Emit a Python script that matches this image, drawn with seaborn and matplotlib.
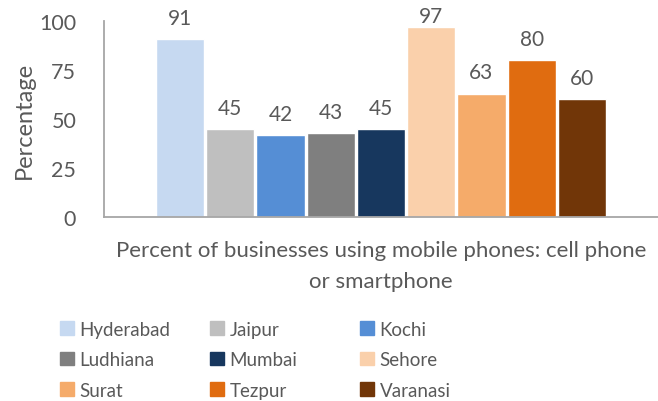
import pandas as pd
import matplotlib.pyplot as plt
import seaborn as sns

cities = ["Hyderabad", "Jaipur", "Kochi", "Ludhiana", "Mumbai",
          "Sehore", "Surat", "Tezpur", "Varanasi"]
values = [91, 45, 42, 43, 45, 97, 63, 80, 60]
colors = ["#C6D9F1", "#BFBFBF", "#558ED5", "#7F7F7F", "#17375E",
          "#FAD0AB", "#F5AB6A", "#E06C10", "#713608"]
category = "Percent of businesses using mobile phones: cell phone\nor smartphone"

df = pd.DataFrame({"Category": [category] * len(cities), "City": cities, "Percentage": values})

sns.set_style("white")
plt.rcParams['font.family'] = ['Lato', 'DejaVu Sans']
txt = "#595959"

fig = plt.figure(figsize=(6.58, 4.02), dpi=100)
ax = fig.add_axes([0.158, 0.458, 0.842, 0.487])

sns.barplot(ax=ax, data=df, x="Category", y="Percentage", hue="City",
            palette=colors, width=0.816, gap=0.04, saturation=1, legend=False)

for c, v in zip(ax.containers, values):
    ax.bar_label(c, padding=1 if v > 95 else 8, fontsize=15, color=txt)

ax.set_ylim(0, 100)
ax.set_xlim(-0.5, 0.5)
ax.set_yticks([0, 25, 50, 75, 100])
ax.tick_params(axis='y', labelsize=15.5, labelcolor=txt, length=0, pad=20)
ax.tick_params(axis='x', length=0, labelsize=16, labelcolor=txt, pad=17)
for lab in ax.get_xticklabels():
    lab.set_linespacing(1.65)
ax.set_xlabel("")
ax.set_ylabel("Percentage", fontsize=17, color=txt, labelpad=3)
for s in ["top", "right"]:
    ax.spines[s].set_visible(False)
for s in ["left", "bottom"]:
    ax.spines[s].set_color("#A6A6A6")
    ax.spines[s].set_linewidth(1.3)

# legend laid out row by row, one column at a time
handles = [plt.Rectangle((0, 0), 1, 1, color=c) for c in colors]
col_x = [0.091, 0.319, 0.547]
for j in range(3):
    idx = [j, j + 3, j + 6]
    fig.legend([handles[i] for i in idx], [cities[i] for i in idx],
               loc="upper left", bbox_to_anchor=(col_x[j], 0.2),
               frameon=False, fontsize=13.5, labelcolor=txt, borderaxespad=0,
               borderpad=0, handlelength=0.75, handleheight=0.75,
               handletextpad=0.3, labelspacing=0.72)

plt.savefig("out.png", dpi=100)
